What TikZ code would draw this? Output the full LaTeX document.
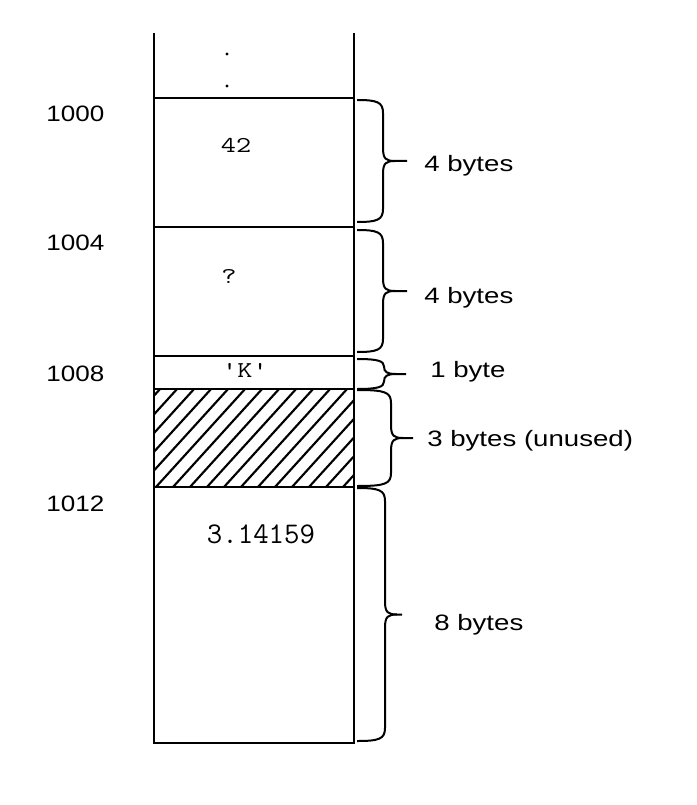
\documentclass[tikz,border=0pt]{standalone}
\usepackage{fontspec}
\setmainfont{Liberation Sans}
\begin{document}
\begin{tikzpicture}[x=0.75pt,y=-0.75pt,
  wall/.style={line width=1.5pt},
  bracepath/.style={line width=1.5pt},
  addr/.style={anchor=base west,inner sep=0pt,xscale=1.17,font=\fontsize{16.7}{20}\selectfont},
  sizelbl/.style={anchor=base west,inner sep=0pt,xscale=1.24,font=\fontsize{16.7}{20}\selectfont},
  valsmall/.style={anchor=base,inner sep=0pt,xscale=1.3,font=\ttfamily\fontsize{17}{20}\selectfont},
  valbig/.style={anchor=base,inner sep=0pt,font=\ttfamily\fontsize{22.5}{26}\selectfont}]
\useasboundingbox (0,0) rectangle (696,805);
% hatched region
\begin{scope}
  \clip (154,389) rectangle (354,487);
  \foreach \i in {0,...,22} {
    \draw[line width=1.6pt] (154+\i*17-100,487) -- (154+\i*17,377);
  }
\end{scope}
% column
\draw[wall] (154,33) -- (154,743) -- (354,743) -- (354,33);
\foreach \yy in {98,227,356,389,487} {\draw[wall] (154,\yy) -- (354,\yy);}
% dots
\fill (227,54) circle (1.6);
\fill (227,86) circle (1.6);
% addresses
\node[addr] (a1000) at (46,122) {1000};
\node[addr] (a1004) at (46,251) {1004};
\node[addr] (a1008) at (46,381) {1008};
\node[addr] (a1012) at (46,511) {1012};
% values
\node[valsmall] (v42) at (236,153) {42};
\node[valsmall] (vq) at (229,283) {?};
\node[valsmall] (vk) at (245,377) {'K'};
\node[valbig] (vpi) at (261,543) {3.14159};
% braces: top y, bottom y, vertical x, tip x
\newcommand\membrace[4]{%
  \pgfmathsetmacro\mm{(#1+#2)/2}%
  \pgfmathsetmacro\rr{min(13,(#2-#1)/4)}%
  \draw[bracepath] (357,#1) .. controls (#3-6,#1) and (#3,#1+2) .. (#3,#1+\rr)
    -- (#3,\mm-\rr) .. controls (#3,\mm-2) and (#3+3,\mm) .. (#3+12,\mm) -- (#4,\mm);
  \draw[bracepath] (#3+12,\mm) .. controls (#3+3,\mm) and (#3,\mm+2) .. (#3,\mm+\rr)
    -- (#3,#2-\rr) .. controls (#3,#2-2) and (#3-6,#2) .. (357,#2);
}
\membrace{100}{222}{383}{407}
\membrace{230}{352}{383}{407}
\membrace{359}{389}{384}{406}
\membrace{390}{486}{391}{413}
\membrace{488}{741}{385}{402}
% size labels
\node[sizelbl] (s1) at (424,172) {4 bytes};
\node[sizelbl] (s2) at (424,303) {4 bytes};
\node[sizelbl] (s3) at (430,377) {1 byte};
\node[sizelbl] (s4) at (427,446) {3 bytes (unused)};
\node[sizelbl] (s5) at (434,630) {8 bytes};
\end{tikzpicture}
\end{document}
